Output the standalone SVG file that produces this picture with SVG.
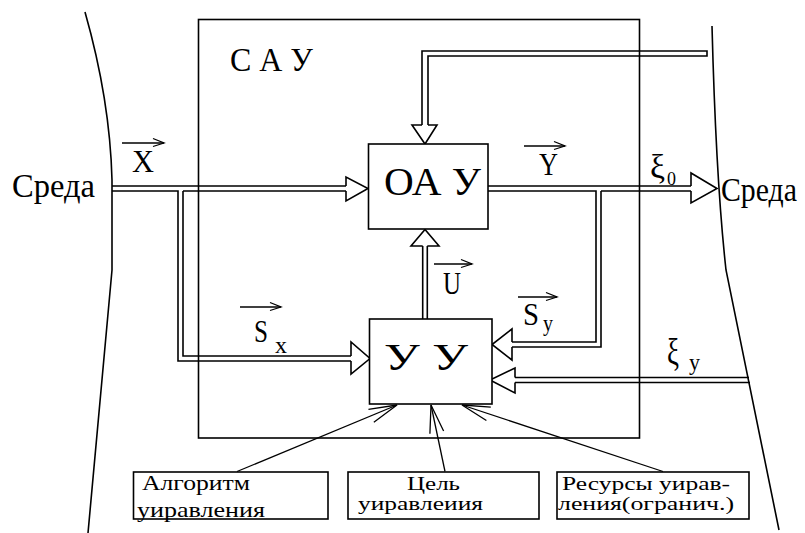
<svg xmlns="http://www.w3.org/2000/svg" width="805" height="533" viewBox="0 0 805 533" font-family="Liberation Serif, serif">
<defs>
<style>
.ln{fill:none;stroke:#000;stroke-width:1.6}
.th{fill:none;stroke:#000;stroke-width:1.3}
.bx{fill:#fff;stroke:#000;stroke-width:1.6}
text{font-family:'Liberation Serif',serif;fill:#000}
</style>
<marker id="va" markerUnits="userSpaceOnUse" markerWidth="14" markerHeight="12" viewBox="-12 -6 14 12" refX="0" refY="0" orient="auto">
<path d="M-11,-4.5 L0,0 L-11,3.5" fill="none" stroke="#000" stroke-width="1.3"/>
</marker>
<marker id="ta" markerUnits="userSpaceOnUse" markerWidth="32" markerHeight="20" viewBox="-30 -10 32 20" refX="0" refY="0" orient="auto">
<path d="M-28,-7 L0,0 L-28,7" fill="none" stroke="#000" stroke-width="1.3"/>
</marker>
</defs>
<rect width="805" height="533" fill="#fff"/>

<g id="env-left"><path class="ln" d="M85,12 Q110,100 112,180 V270 L88,533"/></g>
<g id="env-right"><path class="ln" d="M712,26 Q716,180 726,270 L779,530"/></g>

<g id="sau">
<rect class="ln" x="198.5" y="19.5" width="441" height="418.5"/>
<text x="230" y="71" font-size="33" textLength="83" lengthAdjust="spacingAndGlyphs">С А У</text>
</g>

<g id="connectors">
<path class="ln" d="M112,186 H346 M112,191 H178 V361 H351 M183,191 H346 M183,191 V356 H351"/>
<path class="ln" d="M346,186 V177 L368,188.5 L346,201 V191"/>
<path class="ln" d="M351,356 V342 L370,358.5 L351,374 V361"/>
<path class="ln" d="M488,186 H691 M488,191 H596 V342 H512 M601,191 H691 M601,191 V347 H512"/>
<path class="ln" d="M691,186 V173 L717,188.5 L691,203 V191"/>
<path class="ln" d="M512,342 V329 L492,344.5 L512,360 V347"/>
<path class="ln" d="M515,377.5 H749 M515,382.5 H750"/>
<path class="ln" d="M515,377.5 V368 L490,380 L515,393 V382.5"/>
<path class="ln" d="M422,125 V51 H707 V56 H428 V125"/>
<path class="ln" d="M422,125 H412 L425,144 L437,125 H428"/>
<path class="ln" d="M422.7,319 V246 M427.3,319 V246"/>
<path class="ln" d="M422.7,246 H411 L425,229.5 L439,246 H427.3"/>
<line class="th" x1="237" y1="471.5" x2="397" y2="405" marker-end="url(#ta)"/>
<line class="th" x1="445" y1="471.5" x2="431" y2="405" marker-end="url(#ta)"/>
<line class="th" x1="663" y1="471.5" x2="462" y2="405" marker-end="url(#ta)"/>
<line class="th" x1="122" y1="143" x2="164" y2="143" marker-end="url(#va)"/>
<text x="132" y="172" font-size="31" textLength="22" lengthAdjust="spacingAndGlyphs">X</text>
<line class="th" x1="524" y1="146" x2="565" y2="146" marker-end="url(#va)"/>
<text x="539" y="175" font-size="31" textLength="19" lengthAdjust="spacingAndGlyphs">Y</text>
<line class="th" x1="434" y1="264" x2="472" y2="264" marker-end="url(#va)"/>
<text x="443" y="294" font-size="31" textLength="18" lengthAdjust="spacingAndGlyphs">U</text>
<line class="th" x1="240" y1="307" x2="281" y2="307" marker-end="url(#va)"/>
<text x="254" y="342" font-size="31" textLength="14" lengthAdjust="spacingAndGlyphs">S</text>
<text x="275" y="353" font-size="24" textLength="12" lengthAdjust="spacingAndGlyphs">x</text>
<line class="th" x1="518" y1="297" x2="557" y2="297" marker-end="url(#va)"/>
<text x="523" y="325" font-size="31" textLength="16" lengthAdjust="spacingAndGlyphs">S</text>
<text x="543" y="331" font-size="24" textLength="10" lengthAdjust="spacingAndGlyphs">y</text>
<text x="650" y="178" font-size="33" textLength="15" lengthAdjust="spacingAndGlyphs">ξ</text>
<text x="667" y="185" font-size="18" textLength="9" lengthAdjust="spacingAndGlyphs">0</text>
<text x="667" y="365" font-size="38" textLength="12" lengthAdjust="spacingAndGlyphs">ξ</text>
<text x="689" y="370" font-size="24" textLength="11" lengthAdjust="spacingAndGlyphs">y</text>
</g>

<g id="env-labels">
<text x="12" y="197" font-size="34" textLength="83" lengthAdjust="spacingAndGlyphs">Среда</text>
<text x="721" y="201" font-size="33" textLength="76" lengthAdjust="spacingAndGlyphs">Среда</text>
</g>

<g id="oau">
<rect class="bx" x="368.5" y="144" width="119.5" height="85"/>
<text x="384" y="195" font-size="40" textLength="97" lengthAdjust="spacingAndGlyphs">ОА У</text>
</g>

<g id="uu">
<rect class="bx" x="369.5" y="319" width="122.5" height="85"/>
<text x="384" y="370" font-size="38" textLength="84" lengthAdjust="spacingAndGlyphs">У У</text>
</g>

<g id="box-alg">
<rect class="ln" x="133.5" y="472" width="194.5" height="47"/>
<text x="142" y="490" font-size="22" textLength="108" lengthAdjust="spacingAndGlyphs">Алгоритм</text>
<text x="137" y="517" font-size="22" textLength="128" lengthAdjust="spacingAndGlyphs">уиравления</text>
</g>

<g id="box-goal">
<rect class="ln" x="348" y="472" width="191" height="47"/>
<text x="407" y="490" font-size="18" textLength="53" lengthAdjust="spacingAndGlyphs">Цель</text>
<text x="358" y="510" font-size="18" textLength="125" lengthAdjust="spacingAndGlyphs">уиравлеиия</text>
</g>

<g id="box-res">
<rect class="ln" x="557" y="472" width="192" height="47"/>
<text x="562" y="490" font-size="18" textLength="168" lengthAdjust="spacingAndGlyphs">Ресурсы уирав-</text>
<text x="558" y="510" font-size="18" textLength="176" lengthAdjust="spacingAndGlyphs">ления(огранич.)</text>
</g>
</svg>
